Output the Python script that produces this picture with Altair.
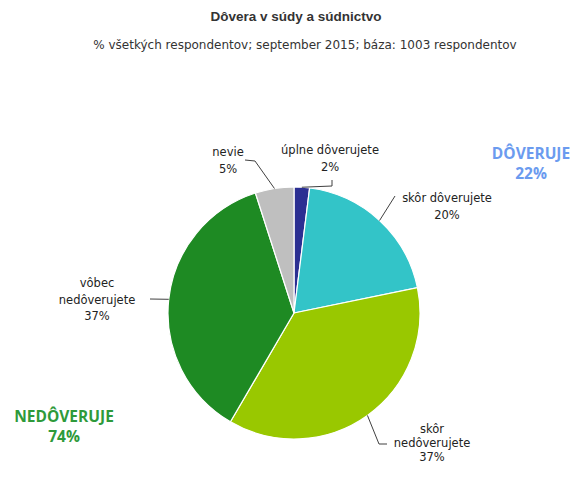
import math
import altair as alt
import pandas as pd

# ---- data ----
categories = ["úplne dôverujete", "skôr dôverujete", "skôr nedôverujete", "vôbec nedôverujete", "nevie"]
values = [2, 20, 37, 37, 5]
label_texts = ["úplne dôverujete\n2%", "skôr dôverujete\n20%", "skôr\nnedôverujete\n37%",
               "vôbec\nnedôverujete\n37%", "nevie\n5%"]
colors = ["#2B2F92", "#33C4C8", "#99C800", "#1E8A23", "#BFBFBF"]
group_names = ["DÔVERUJE\n22%", "NEDÔVERUJE\n74%"]
group_colors = ["#6B9BEF", "#2E9A3A"]
title_text = "Dôvera v súdy a súdnictvo"
subtitle_text = "%  všetkých respondentov; september 2015; báza: 1003 respondentov"

# ---- layout (page pixel coordinates, converted below) ----
W, H = 562, 461
OFF = 8
CX, CY, R = 294 - OFF, 313 - OFF, 126
# first-line centre of each label
label_pos = [(330, 150), (447, 198), (432, 429), (97, 283), (228, 152)]
label_lh = [17, 17, 14, 16.5, 17]
leader_mid = [[(332, 186)], [], [(379, 444)], [], [(255, 161)]]
leader_end = [(332, 180), (395, 196), (387, 444), (150, 299), (245, 160)]
group_pos = [(531, 155), (64, 418)]

total = sum(values)
df = pd.DataFrame({"cat": categories, "val": values, "order": range(len(values))})

pie = alt.Chart(df).mark_arc(radius=R, stroke="white", strokeWidth=1.2).encode(
    theta=alt.Theta("val:Q", stack=True),
    order=alt.Order("order:Q"),
    color=alt.Color("cat:N", scale=alt.Scale(domain=categories, range=colors), legend=None),
    x=alt.value(CX), y=alt.value(CY),
)

# leader lines: start on pie edge at slice mid-angle
rows = []
cum = 0
for i, v in enumerate(values):
    mid = (cum + v / 2) / total * 2 * math.pi
    cum += v
    pts = [(CX + R * math.sin(mid), CY - R * math.cos(mid))]
    pts += [(x - OFF, y - OFF) for x, y in leader_mid[i]]
    ex, ey = leader_end[i]
    pts.append((ex - OFF, ey - OFF))
    for k, (x, y) in enumerate(pts):
        rows.append({"cat": categories[i], "k": k, "x": x, "y": y})
ldf = pd.DataFrame(rows)
leaders = alt.Chart(ldf).mark_line(color="#404040", strokeWidth=1).encode(
    x=alt.X("x:Q", scale=None), y=alt.Y("y:Q", scale=None),
    detail="cat:N", order="k:Q",
)

label_layers = []
for i, t in enumerate(label_texts):
    px, py = label_pos[i]
    lh = label_lh[i]
    d = pd.DataFrame({"t": [t]})
    label_layers.append(alt.Chart(d).mark_text(
        font="DejaVu Sans", fontSize=11.5, lineBreak="\n", lineHeight=lh,
        baseline="top", color="#222222").encode(
        x=alt.value(px - OFF), y=alt.value(py - OFF - 5), text="t:N"))

gdf = pd.DataFrame({"t": group_names, "c": group_colors,
                    "x": [p[0] - OFF for p in group_pos],
                    "y": [p[1] - OFF - 8 for p in group_pos]})
groups = alt.Chart(gdf).mark_text(font="Open Sans", fontSize=15.5, fontWeight="bold", lineBreak="\n",
                                  lineHeight=20, baseline="top").encode(
    x=alt.X("x:Q", scale=None), y=alt.Y("y:Q", scale=None), text="t:N",
    color=alt.Color("c:N", scale=None))

title = alt.Chart(pd.DataFrame({"t": [title_text]})).mark_text(
    font="Liberation Sans", fontSize=13.5, fontWeight="bold", color="#333333").encode(
    x=alt.value(296 - OFF), y=alt.value(17 - OFF), text="t:N")
subtitle = alt.Chart(pd.DataFrame({"t": [subtitle_text]})).mark_text(
    font="DejaVu Sans", fontSize=12, color="#333333").encode(
    x=alt.value(305 - OFF), y=alt.value(45 - OFF), text="t:N")

chart = alt.layer(pie, leaders, *label_layers, groups, title, subtitle).properties(
    width=W, height=H, padding=0,
    autosize=alt.AutoSizeParams(type="fit", contains="padding"),
).configure_view(stroke=None)

chart.save("out.html", embed_options={"renderer": "svg", "actions": False})
